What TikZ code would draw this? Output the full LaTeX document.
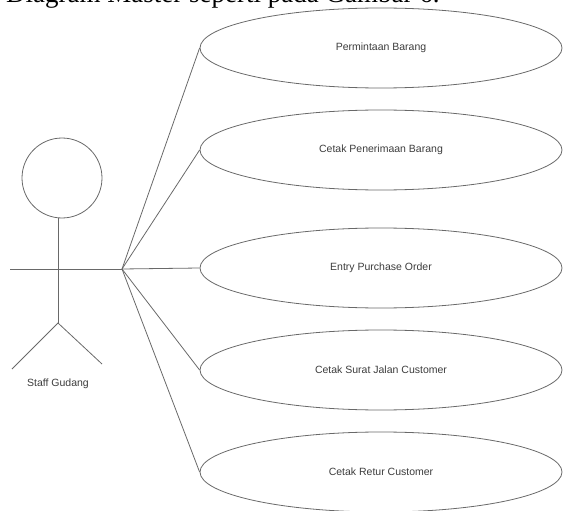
\documentclass[tikz,border=0pt]{standalone}
\usepackage{fontspec}
\setmainfont{Liberation Serif}
\newfontfamily\umlfont{Liberation Sans}
\usetikzlibrary{shapes.geometric}

\begin{document}
\begin{tikzpicture}[x=1pt,y=-1pt]
% Define colours and styles
\definecolor{umlline}{RGB}{105,105,105}
\definecolor{umltext}{RGB}{60,60,60}
\tikzset{
  usecase/.style={draw=umlline,line width=0.8pt,ellipse,minimum width=362pt,minimum height=80pt,inner sep=0pt,font=\umlfont\fontsize{10.5}{13}\selectfont,text=umltext},
  assoc/.style={draw=umlline,line width=0.8pt}
}

% Frame of the picture
\useasboundingbox (0,0) rectangle (563,511);
\clip (0,0) rectangle (563,511);

% Caption line cut off above
\node[anchor=base west,inner sep=0pt,font=\fontsize{27}{32}\selectfont] (caption) at (6,3) {Diagram Master seperti pada Gambar 6.};

% Draw actor
\node[draw=umlline,line width=0.8pt,circle,minimum size=80pt,inner sep=0pt] (head) at (62,178) {};
\draw[assoc] (58,218) -- (58,323) coordinate (hip);
\draw[assoc] (10,269) -- (122,269) coordinate (hub);
\draw[assoc] (12,369) -- (hip) -- (102,364);
\node[font=\umlfont\fontsize{10.5}{13}\selectfont,text=umltext] (actor) at (58,384) {Staff Gudang};

% Draw use cases
\node[usecase] (uc1) at (381,48) {Permintaan Barang};
\node[usecase] (uc2) at (381,150) {Cetak Penerimaan Barang};
\node[usecase] (uc3) at (381,268) {Entry Purchase Order};
\node[usecase] (uc4) at (381,370) {Cetak Surat Jalan Customer};
\node[usecase] (uc5) at (381,472) {Cetak Retur Customer};

% Draw associations
\foreach \uc in {uc1,uc2,uc3,uc4,uc5}
  \draw[assoc] (hub) -- (\uc.west);
\end{tikzpicture}
\end{document}
